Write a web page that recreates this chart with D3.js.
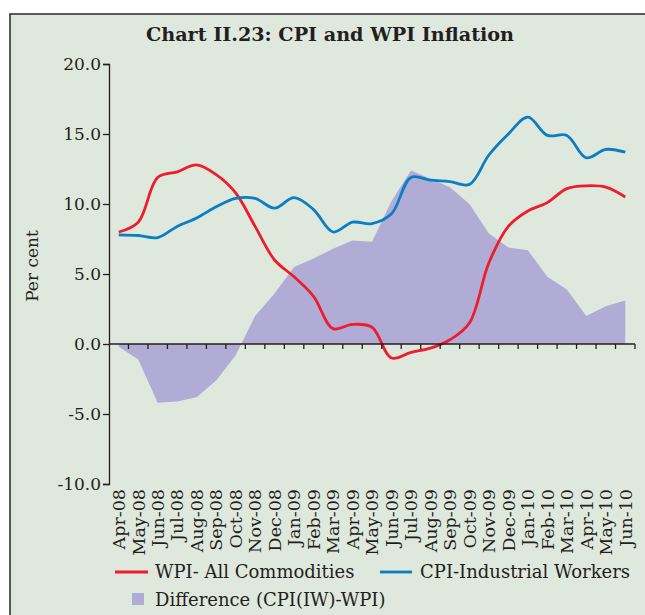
<!DOCTYPE html>
<html><head><meta charset="utf-8">
<script src="https://cdn.jsdelivr.net/npm/d3@7"></script>
<style>
html,body{margin:0;padding:0;background:#fff;}
svg{display:block;}
text{font-family:"DejaVu Serif",serif;fill:#231f20;}
</style></head>
<body>
<svg id="chart" width="645" height="615"></svg>
<script>
const months = ["Apr-08","May-08","Jun-08","Jul-08","Aug-08","Sep-08","Oct-08","Nov-08","Dec-08","Jan-09","Feb-09","Mar-09","Apr-09","May-09","Jun-09","Jul-09","Aug-09","Sep-09","Oct-09","Nov-09","Dec-09","Jan-10","Feb-10","Mar-10","Apr-10","May-10","Jun-10"];
const wpi = [8.0,8.7,11.9,12.3,12.8,12.1,10.8,8.4,6.0,4.8,3.4,1.1,1.4,1.2,-1.0,-0.6,-0.3,0.3,1.5,5.8,8.4,9.5,10.1,11.1,11.3,11.2,10.5];
const cpi = [7.8,7.75,7.6,8.4,9.0,9.8,10.4,10.4,9.7,10.45,9.6,8.0,8.7,8.6,9.3,11.9,11.7,11.6,11.4,13.5,15.0,16.2,14.9,14.9,13.3,13.9,13.7];
const diff = [-0.2,-1.1,-4.2,-4.1,-3.8,-2.6,-0.8,2.0,3.6,5.5,6.1,6.8,7.4,7.3,10.2,12.4,11.8,11.2,10.0,7.9,6.9,6.7,4.8,3.9,2.0,2.7,3.1];
const yTicks = [20,15,10,5,0,-5,-10];
const title = "Chart II.23: CPI and WPI Inflation";
const yLabel = "Per cent";
const legendItems = ["WPI- All Commodities","CPI-Industrial Workers","Difference (CPI(IW)-WPI)"];

const colors = {bg:"#dfe8dc", red:"#ed1c2e", blue:"#0a7dc3", area:"#b0acd6", axis:"#231f20"};
const svg = d3.select("#chart");

// panel
svg.append("rect").attr("x",10).attr("y",14).attr("width",640).attr("height",610)
  .attr("fill",colors.bg).attr("stroke","#333").attr("stroke-width",1.6);

const x = d3.scaleBand().domain(months).range([109,635]).padding(0);
const y = d3.scaleLinear().domain([-10,20]).range([484,64]);
const cx = d => x(d) + x.bandwidth()/2;

// area
const area = d3.area().x((d,i)=>cx(months[i])).y0(y(0)).y1(d=>y(d));
svg.append("path").datum(diff).attr("d",area).attr("fill",colors.area);

// lines
const line = d3.line().x((d,i)=>cx(months[i])).y(d=>y(d)).curve(d3.curveCatmullRom.alpha(0.5));
svg.append("path").datum(wpi).attr("d",line).attr("fill","none").attr("stroke",colors.red).attr("stroke-width",2.8);
svg.append("path").datum(cpi).attr("d",line).attr("fill","none").attr("stroke",colors.blue).attr("stroke-width",2.8);

// y axis
const yAxis = svg.append("g").attr("transform","translate(109,0)")
  .call(d3.axisLeft(y).tickValues(yTicks).tickFormat(d=>d.toFixed(1)).tickSize(6).tickPadding(2));
yAxis.select(".domain").attr("stroke",colors.axis).attr("stroke-width",1.3);
yAxis.selectAll(".tick line").attr("stroke",colors.axis).attr("stroke-width",1.3);
yAxis.selectAll("text").attr("font-size",17).attr("font-family","DejaVu Serif").attr("fill","#231f20");

// x axis at zero
const xAxis = svg.append("g").attr("transform",`translate(0,${y(0)})`);
xAxis.append("line").attr("x1",109).attr("x2",635).attr("y1",0).attr("y2",0).attr("stroke",colors.axis).attr("stroke-width",1.3);
xAxis.selectAll(".xt").data(months).enter().append("line")
  .attr("x1",d=>x(d)+x.bandwidth()).attr("x2",d=>x(d)+x.bandwidth()).attr("y1",0).attr("y2",5)
  .attr("stroke",colors.axis).attr("stroke-width",1.3);

// x labels
svg.selectAll(".xl").data(months).enter().append("text")
  .attr("transform",d=>`translate(${cx(d)},489) rotate(-90)`)
  .attr("text-anchor","end").attr("dy","0.36em").attr("font-size",17.5).text(d=>d);

// title
svg.append("text").attr("x",330).attr("y",41).attr("text-anchor","middle")
  .attr("font-size",19.2).attr("font-weight","bold").text(title);

// y label
svg.append("text").attr("transform","translate(32,266) rotate(-90)").attr("text-anchor","middle")
  .attr("dy","0.35em").attr("font-size",17).text(yLabel);

// legend
const lg = svg.append("g");
lg.append("line").attr("x1",115).attr("x2",148).attr("y1",572).attr("y2",572).attr("stroke",colors.red).attr("stroke-width",2.8);
lg.append("text").attr("x",155).attr("y",578).attr("font-size",18).text(legendItems[0]);
lg.append("line").attr("x1",380).attr("x2",412).attr("y1",572).attr("y2",572).attr("stroke",colors.blue).attr("stroke-width",2.8);
lg.append("text").attr("x",420).attr("y",578).attr("font-size",18).text(legendItems[1]);
lg.append("rect").attr("x",132).attr("y",593).attr("width",12).attr("height",12).attr("fill",colors.area);
lg.append("text").attr("x",155).attr("y",606).attr("font-size",18).text(legendItems[2]);
</script>
</body></html>
